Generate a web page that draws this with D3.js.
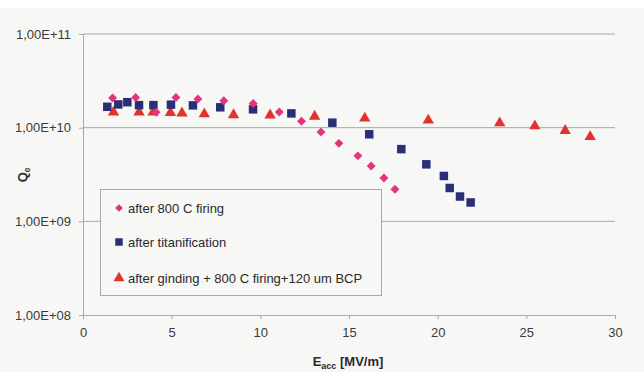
<!DOCTYPE html>
<html>
<head>
<meta charset="utf-8">
<script src="https://cdn.jsdelivr.net/npm/d3@7"></script>
<style>
  html, body { margin: 0; padding: 0; background: #f7f7f5; }
  svg { display: block; font-family: "Liberation Sans", Arial, sans-serif; }
</style>
</head>
<body>
<div id="chart"></div>
<script>
// E_acc [MV/m] and Q0 values
const firingE = [1.67, 2.97, 4.12, 5.24, 6.48, 7.94, 9.60, 11.07, 12.32, 13.42, 14.43, 15.50, 16.25, 16.97, 17.59];
const firingQ = [2.07e10, 2.10e10, 1.46e10, 2.10e10, 2.02e10, 1.94e10, 1.81e10, 1.47e10, 1.17e10, 9.0e9, 6.8e9, 5.0e9, 3.9e9, 2.9e9, 2.2e9];

const titanE = [1.37, 1.99, 2.50, 3.16, 3.97, 4.96, 6.20, 7.74, 9.59, 11.75, 14.06, 16.14, 17.95, 19.36, 20.35, 20.68, 21.26, 21.86];
const titanQ = [1.67e10, 1.77e10, 1.87e10, 1.74e10, 1.74e10, 1.76e10, 1.73e10, 1.65e10, 1.57e10, 1.42e10, 1.13e10, 8.5e9, 5.9e9, 4.06e9, 3.05e9, 2.27e9, 1.84e9, 1.59e9];

const bcpE = [1.72, 3.16, 3.95, 4.93, 5.58, 6.84, 8.49, 10.55, 13.06, 15.89, 19.47, 23.50, 25.48, 27.19, 28.60];
const bcpQ = [1.46e10, 1.46e10, 1.46e10, 1.44e10, 1.43e10, 1.40e10, 1.37e10, 1.36e10, 1.32e10, 1.26e10, 1.20e10, 1.12e10, 1.04e10, 9.3e9, 8.0e9];

const seriesNames = ["after 800 C firing", "after titanification", "after ginding + 800 C firing+120 um BCP"];
const xTicks = [0, 5, 10, 15, 20, 25, 30];
const yTicks = [1e8, 1e9, 1e10, 1e11];
const yTickLabels = ["1,00E+08", "1,00E+09", "1,00E+10", "1,00E+11"];

const width = 644, height = 372;
const margin = { top: 34, right: 29, bottom: 57, left: 83 };

const svg = d3.select("#chart").append("svg")
    .attr("width", width)
    .attr("height", height);

// white strip at the top of the scan
svg.append("rect").attr("x", 0).attr("y", 0).attr("width", width).attr("height", 8).attr("fill", "#ffffff");

const x = d3.scaleLinear()
    .domain([0, 30])
    .range([margin.left, width - margin.right]);

const y = d3.scaleLog()
    .domain([1e8, 1e11])
    .range([height - margin.bottom, margin.top]);

// gridlines
svg.append("g")
    .selectAll("line")
    .data(yTicks.slice(1))
    .enter().append("line")
    .attr("x1", x(0)).attr("x2", x(30))
    .attr("y1", d => y(d)).attr("y2", d => y(d))
    .attr("stroke", "#a8a8a8")
    .attr("stroke-width", 1);

// y axis
const yAxis = d3.axisLeft(y)
    .tickValues(yTicks)
    .tickFormat((d, i) => yTickLabels[i])
    .tickSize(4)
    .tickPadding(8);

const gy = svg.append("g")
    .attr("transform", `translate(${x(0)},0)`)
    .call(yAxis);
gy.select(".domain").attr("stroke", "#a8a8a8");
gy.selectAll(".tick line").attr("stroke", "#a8a8a8");
gy.selectAll(".tick text").attr("font-size", 13).attr("fill", "#3a3a3a");

// x axis
const xAxis = d3.axisBottom(x)
    .tickValues(xTicks)
    .tickSize(4)
    .tickPadding(9);

const gx = svg.append("g")
    .attr("transform", `translate(0,${y(1e8)})`)
    .call(xAxis);
gx.select(".domain").attr("stroke", "#a8a8a8");
gx.selectAll(".tick line").attr("stroke", "#a8a8a8");
gx.selectAll(".tick text").attr("font-size", 13).attr("fill", "#3a3a3a");

// axis titles
const xt = svg.append("text")
    .attr("x", 348)
    .attr("y", 366)
    .attr("text-anchor", "middle")
    .attr("font-size", 13)
    .attr("font-weight", "bold")
    .attr("fill", "#2a2a2a");
xt.append("tspan").text("E");
xt.append("tspan").attr("font-size", 9).attr("dy", 3).text("acc");
xt.append("tspan").attr("dy", -3).text(" [MV/m]");

const yt = svg.append("text")
    .attr("transform", "translate(27,175) rotate(-90)")
    .attr("text-anchor", "middle")
    .attr("font-size", 13)
    .attr("font-weight", "bold")
    .attr("fill", "#2a2a2a");
yt.append("tspan").text("Q");
yt.append("tspan").attr("font-size", 8).attr("dy", 3).text("0");

// series markers
const colors = ["#e2357f", "#2a2d78", "#e2332b"];
const symbols = [
    d3.symbol().type(d3.symbolSquare).size(40),
    d3.symbol().type(d3.symbolSquare).size(72),
    d3.symbol().type(d3.symbolTriangle).size(56)
];
const rotations = [45, 0, 0];

const series = [
    firingE.map((e, i) => ({ e: e, q: firingQ[i] })),
    titanE.map((e, i) => ({ e: e, q: titanQ[i] })),
    bcpE.map((e, i) => ({ e: e, q: bcpQ[i] }))
];

// draw order: triangles, squares, diamonds on top
[2, 1, 0].forEach(k => {
    svg.append("g")
        .selectAll("path")
        .data(series[k])
        .enter().append("path")
        .attr("transform", d => `translate(${x(d.e)},${y(d.q)}) rotate(${rotations[k]})`)
        .attr("d", symbols[k])
        .attr("fill", colors[k]);
});

// legend
const legend = svg.append("g");
legend.append("rect")
    .attr("x", 100.5).attr("y", 189.5)
    .attr("width", 281).attr("height", 106)
    .attr("fill", "#f7f7f5")
    .attr("stroke", "#a8a8a8");

const legendY = [208, 242, 278];
const legendSymbols = [
    d3.symbol().type(d3.symbolSquare).size(30),
    d3.symbol().type(d3.symbolSquare).size(56),
    d3.symbol().type(d3.symbolTriangle).size(52)
];
seriesNames.forEach((name, i) => {
    legend.append("path")
        .attr("transform", `translate(119,${legendY[i]}) rotate(${rotations[i]})`)
        .attr("d", legendSymbols[i])
        .attr("fill", colors[i]);
    legend.append("text")
        .attr("x", 128)
        .attr("y", legendY[i] + 5)
        .attr("font-size", 13)
        .attr("fill", "#2a2a2a")
        .text(name);
});
</script>
</body>
</html>
